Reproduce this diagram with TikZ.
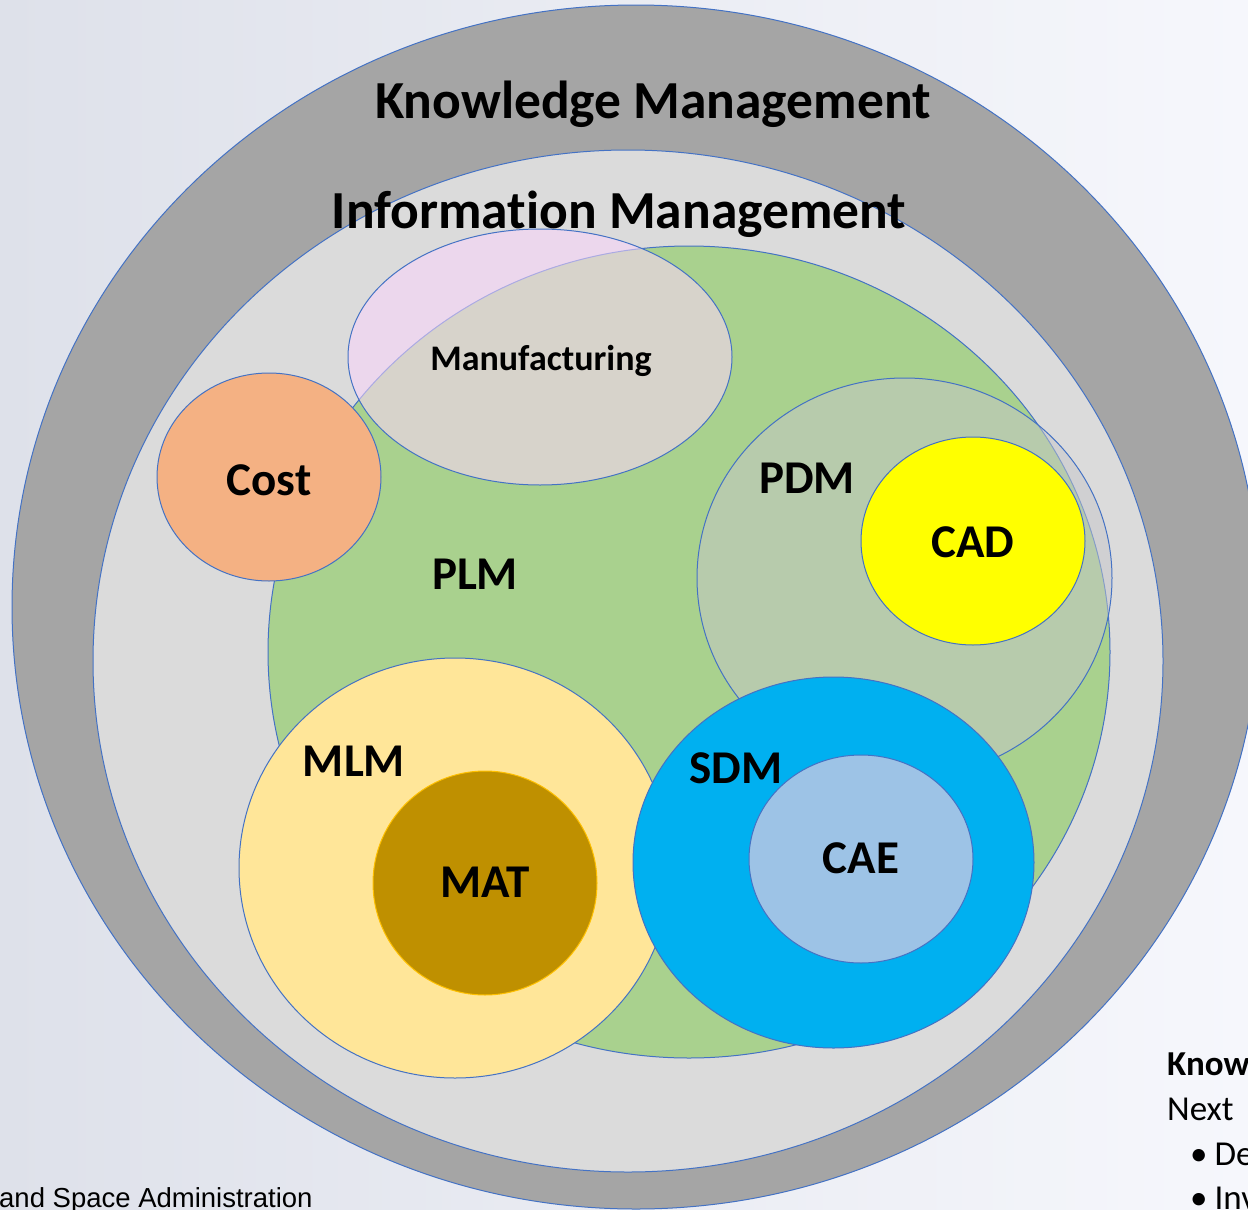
\documentclass[tikz,border=0pt]{standalone}
\usepackage{fontspec}
\setmainfont{Carlito}[Ligatures=CommonOff]
\newfontfamily\arialfont{Liberation Sans}
\usetikzlibrary{shapes.geometric}
\definecolor{edgeblue}{RGB}{68,114,196}
\definecolor{bgL}{RGB}{222,225,234}
\definecolor{bgM}{RGB}{234,236,243}
\definecolor{bgR}{RGB}{246,247,252}
\definecolor{kmgray}{RGB}{165,165,165}
\definecolor{imgray}{RGB}{219,219,219}
\definecolor{plmgreen}{RGB}{169,209,142}
\definecolor{mfgpink}{RGB}{250,213,251}
\definecolor{pdmgray}{RGB}{198,199,203}
\definecolor{costorange}{RGB}{244,177,131}
\definecolor{cadyellow}{RGB}{255,255,0}
\definecolor{mlmyellow}{RGB}{255,230,153}
\definecolor{matgold}{RGB}{191,144,0}
\definecolor{matedge}{RGB}{255,192,0}
\definecolor{sdmblue}{RGB}{0,176,240}
\definecolor{caeblue}{RGB}{157,195,230}
\begin{document}
\begin{tikzpicture}[x=1pt,y=-1pt,
  blob/.style={ellipse, draw=edgeblue, line width=1pt, inner sep=0pt, outer sep=0pt},
  lab/.style={font=\bfseries\fontsize{47}{50}\selectfont, anchor=base, inner sep=0pt, text=black},
  biglab/.style={font=\bfseries\fontsize{53.5}{58}\selectfont, anchor=base, inner sep=0pt, text=black},
  sidetext/.style={font=\fontsize{35}{40}\selectfont, anchor=base west, inner sep=0pt, text=black},
]
\useasboundingbox (0,0) rectangle (1248,1210);
\clip (0,0) rectangle (1248,1210);
\shade[left color=bgL, middle color=bgM, right color=bgR] (0,0) rectangle (1248,1210);

% rings and sets
\node[blob, fill=kmgray, minimum width=1248pt, minimum height=1204pt] (km) at (636,607) {};
\node[blob, fill=imgray, minimum width=1070pt, minimum height=1022pt] (im) at (628,661) {};
\node[blob, fill=plmgreen, minimum width=842pt, minimum height=812pt] (plm) at (689,652) {};
\node[blob, fill=mfgpink, fill opacity=0.57, minimum width=384pt, minimum height=256pt] (mfg) at (540,357) {};
\node[blob, fill=costorange, minimum width=224pt, minimum height=208pt] (cost) at (269,477) {};
\node[blob, fill=pdmgray, fill opacity=0.5, minimum width=415pt, minimum height=400pt] (pdm) at (904.5,578) {};
\node[blob, fill=cadyellow, minimum width=224pt, minimum height=208pt] (cad) at (973,541) {};
\node[blob, fill=mlmyellow, minimum width=432pt, minimum height=420pt] (mlm) at (455,868) {};
\node[blob, draw=matedge, fill=matgold, minimum width=224pt, minimum height=224pt] (mat) at (485,883) {};
\node[blob, fill=sdmblue, minimum width=401pt, minimum height=371pt] (sdm) at (833.5,862.5) {};
\node[blob, fill=caeblue, minimum width=224pt, minimum height=208pt] (cae) at (861,859) {};

% labels
\node[biglab] (kmlab) at (653,118) {Knowledge Management};
\node[biglab] (imlab) at (619,228) {Information Management};
\node[lab, font=\bfseries\fontsize{36}{40}\selectfont] (mfglab) at (541,370) {Manufacturing};
\node[lab] (costlab) at (269,495) {Cost};
\node[lab] (plmlab) at (475,589) {PLM};
\node[lab] (pdmlab) at (807,493) {PDM};
\node[lab] (cadlab) at (973,557) {CAD};
\node[lab] (mlmlab) at (354,776) {MLM};
\node[lab] (matlab) at (485,897) {MAT};
\node[lab] (sdmlab) at (736,783) {SDM};
\node[lab] (caelab) at (861,873) {CAE};

% cut-off page texts
\node[anchor=base west, inner sep=0pt, font=\arialfont\fontsize{27.5}{30}\selectfont] (nasa) at (-1,1207) {and Space Administration};
\node[sidetext, font=\bfseries\fontsize{35}{40}\selectfont] (know) at (1167,1075) {Know};
\node[sidetext] (next) at (1167,1120) {Next};
\node[sidetext] (bul1) at (1190,1165) {•\hspace{7pt}De};
\node[sidetext] (bul2) at (1190,1209) {•\hspace{7pt}Inv};
\end{tikzpicture}
\end{document}
